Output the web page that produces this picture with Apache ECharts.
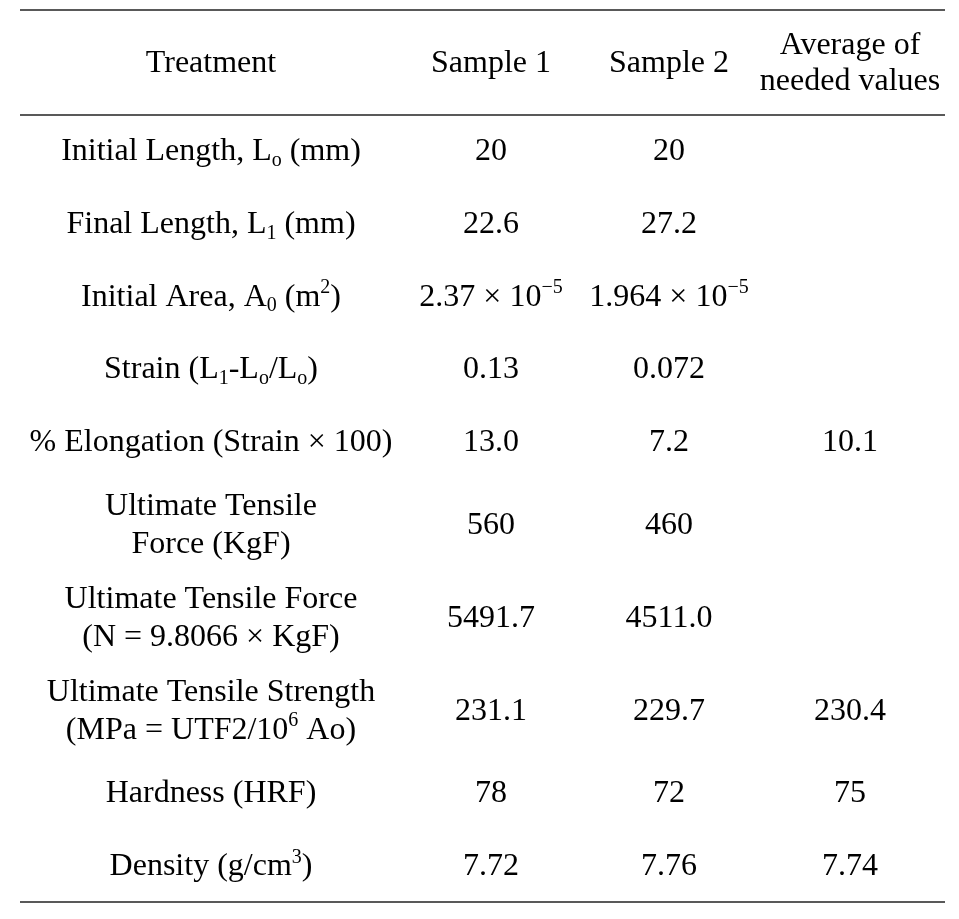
<!DOCTYPE html>
<html lang="en">
<head>
<meta charset="utf-8">
<title>Tensile test results</title>
<script src="https://cdn.jsdelivr.net/npm/echarts@6/dist/echarts.min.js"></script>
<style>
  html, body { margin: 0; padding: 0; background: #fff; }
  #table { width: 959px; height: 919px; }
</style>
</head>
<body>
<div id="table"></div>
<script>
// table content
var columns = ['Treatment', 'Sample 1', 'Sample 2', 'Average of\nneeded values'];
var treatments = [
  'Initial Length, L{sub|o} (mm)',
  'Final Length, L{sub|1} (mm)',
  'Initial Area, A{sub|0} (m{sup|2})',
  'Strain (L{sub|1}-L{sub|o}/L{sub|o})',
  '% Elongation (Strain × 100)',
  'Ultimate Tensile\nForce (KgF)',
  'Ultimate Tensile Force\n(N = 9.8066 × KgF)',
  'Ultimate Tensile Strength\n(MPa = UTF2/10{sup|6} Ao)',
  'Hardness (HRF)',
  'Density (g/cm{sup|3})'
];
var sample1 = ['20', '22.6', '2.37 × 10{sup|−5}', '0.13', '13.0', '560', '5491.7', '231.1', '78', '7.72'];
var sample2 = ['20', '27.2', '1.964 × 10{sup|−5}', '0.072', '7.2', '460', '4511.0', '229.7', '72', '7.76'];
var average = ['', '', '', '', '10.1', '', '', '230.4', '75', '7.74'];

// layout
var FONT = "'Liberation Serif', 'Times New Roman', serif";
var colX = [191, 471, 649, 830];     // column centres, x axis units
var headerH = 1.44;                   // row heights in y axis units
function rowH(text) { return text.indexOf('\n') >= 0 ? 1.28 : 1; }

var cells = [];
columns.forEach(function (t, c) {
  cells.push({ x: colX[c], y: headerH / 2, text: t, lh: 36 });
});
var y = headerH;
treatments.forEach(function (t, r) {
  var h = rowH(t);
  var mid = y + h / 2;
  [t, sample1[r], sample2[r], average[r]].forEach(function (v, c) {
    if (v !== '') cells.push({ x: colX[c], y: mid, text: v, lh: 38 });
  });
  y += h;
});
var total = y;

var RICH = {
  sub: { fontSize: 20, fontFamily: FONT, fill: '#000', verticalAlign: 'bottom' },
  sup: { fontSize: 20, fontFamily: FONT, fill: '#000', verticalAlign: 'top' }
};

var chart = echarts.init(document.getElementById('table'));
chart.setOption({
  animation: false,
  backgroundColor: '#fff',
  grid: { left: 20, right: 14, top: 10, bottom: 17 },
  xAxis: { type: 'value', min: 0, max: 925, show: false },
  yAxis: { type: 'value', min: 0, max: total, inverse: true, show: false },
  series: [{
    type: 'custom',
    silent: true,
    clip: false,
    data: cells.map(function (c) { return [c.x, c.y]; }),
    renderItem: function (params, api) {
      var c = cells[params.dataIndex];
      var p = api.coord([c.x, c.y]);
      return {
        type: 'text',
        style: {
          text: c.text,
          x: p[0],
          y: p[1] + 1,
          align: 'center',
          verticalAlign: 'middle',
          fontSize: 32,
          fontFamily: FONT,
          fill: '#000',
          lineHeight: c.lh,
          rich: RICH
        }
      };
    },
    markLine: {
      silent: true,
      symbol: 'none',
      label: { show: false },
      lineStyle: { type: 'solid', color: '#222', width: 1.6 },
      data: [{ yAxis: 0 }, { yAxis: headerH }, { yAxis: total }]
    }
  }]
});
</script>
</body>
</html>
